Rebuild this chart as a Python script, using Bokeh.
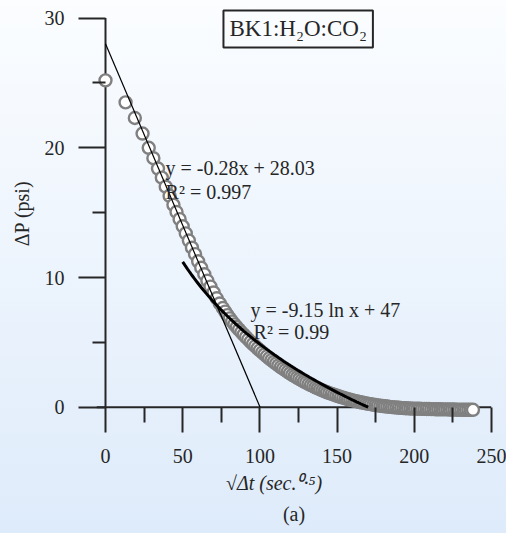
import numpy as np
from bokeh.plotting import figure
from bokeh.models import Range1d, FixedTicker, Span, Label, Title
from bokeh.embed import file_html
from bokeh.resources import INLINE

# ---- data ----
x_early = [0, 13, 19, 24, 28, 31, 34, 36.5, 39, 41.5, 44, 46, 48, 50, 52, 54, 56, 58,
           60, 62, 64, 66, 68, 70, 72, 74, 76]
y_early = [25.2, 23.5, 22.3, 21.1, 20.0, 19.2, 18.4, 17.7, 17.0, 16.3, 15.6, 15.05, 14.5,
           13.95, 13.4, 12.85, 12.3, 11.8, 11.25, 10.75, 10.25, 9.75, 9.3, 8.85, 8.4, 8.0, 7.65]

x_late = [77.5, 79, 80.5, 82, 83.5, 85, 86.5, 88, 89.5, 91,
          92.5, 94, 95.5, 97, 98.5, 100, 101.5, 103, 104.5, 106,
          107.5, 109, 110.5, 112, 113.5, 115, 116.5, 118, 119.5, 121,
          122.5, 124, 125.5, 127, 128.5, 130, 131.5, 133, 134.5, 136,
          137.5, 139, 140.5, 142, 143.5, 145, 146.5, 148, 149.5, 151,
          152.5, 154, 155.5, 157, 158.5, 160, 161.5, 163, 164.5, 166,
          167.5, 169, 170.5, 172, 173.5, 175, 176.5, 178, 179.5, 181,
          182.5, 184, 185.5, 187, 188.5, 190, 191.5, 193, 194.5, 196,
          197.5, 199, 200.5, 202, 203.5, 205, 206.5, 208, 209.5, 211,
          212.5, 214, 215.5, 217, 218.5, 220, 221.5, 223, 224.5, 226,
          227.5, 229, 230.5, 232, 233.5, 235, 236.5, 238]
y_late = [7.37, 7.10, 6.85, 6.61, 6.39, 6.18, 5.98, 5.78, 5.59, 5.40,
          5.22, 5.04, 4.87, 4.70, 4.54, 4.38, 4.22, 4.07, 3.92, 3.77,
          3.63, 3.49, 3.36, 3.22, 3.09, 2.97, 2.85, 2.73, 2.61, 2.50,
          2.39, 2.28, 2.18, 2.08, 1.98, 1.89, 1.79, 1.70, 1.62, 1.53,
          1.45, 1.37, 1.30, 1.22, 1.15, 1.09, 1.02, 0.96, 0.90, 0.84,
          0.78, 0.73, 0.67, 0.62, 0.58, 0.53, 0.49, 0.44, 0.40, 0.36,
          0.33, 0.29, 0.26, 0.23, 0.19, 0.17, 0.14, 0.11, 0.09, 0.07,
          0.05, 0.03, 0.01, -0.01, -0.02, -0.04, -0.05, -0.07, -0.08, -0.09,
          -0.10, -0.11, -0.11, -0.12, -0.12, -0.13, -0.13, -0.14, -0.14, -0.15,
          -0.15, -0.16, -0.16, -0.16, -0.17, -0.17, -0.17, -0.18, -0.18, -0.18,
          -0.19, -0.19, -0.19, -0.20, -0.20, -0.20, -0.20, -0.20]

x_data = x_early + x_late
y_data = y_early + y_late

# trend-line coefficients (from the chart annotations)
lin_slope, lin_intercept = -0.28, 28.03
log_coef, log_intercept = -9.15, 47.0
log_x_start = 50

x_ticks = [0, 50, 100, 150, 200, 250]
x_minor = [25, 75, 125, 175, 225]
y_ticks = [0, 10, 20, 30]
y_minor = [5, 15, 25]

# trend lines
lin_x = [0, -lin_intercept / lin_slope]
lin_y = [lin_intercept + lin_slope * v for v in lin_x]
log_x_end = float(np.exp(log_intercept / -log_coef))
log_x = np.linspace(log_x_start, log_x_end, 80)
log_y = log_coef * np.log(log_x) + log_intercept

INK = "#262626"
FONT = "Liberation Serif"

p = figure(width=506, height=533, output_backend="svg", toolbar_location=None,
           title=None,
           x_range=Range1d(-5.83, 250), y_range=Range1d(-0.87, 30.74),
           min_border_left=96, min_border_right=15, min_border_top=8,
           min_border_bottom=115)
p.background_fill_color = None
p.border_fill_color = None
p.styles = {"background": "linear-gradient(to bottom, #fbfdff 0%, #eef5fd 45%, #deebfa 100%)"}
p.outline_line_color = None
p.xgrid.visible = False
p.ygrid.visible = False

# axes
p.xaxis.ticker = FixedTicker(ticks=x_ticks, minor_ticks=x_minor)
p.yaxis.ticker = FixedTicker(ticks=y_ticks, minor_ticks=y_minor)
for ax in (p.xaxis, p.yaxis):
    ax.axis_line_color = None
    ax.major_tick_line_color = INK
    ax.minor_tick_line_color = INK
    ax.major_tick_line_width = 2
    ax.minor_tick_line_width = 2
    ax.major_label_text_font = FONT
    ax.major_label_text_font_size = "20px"
    ax.major_label_text_color = INK
    ax.axis_label_text_font = FONT
    ax.axis_label_text_font_size = "20px"
    ax.axis_label_text_color = INK

p.xaxis.major_tick_in = 11
p.xaxis.major_tick_out = 14
p.xaxis.minor_tick_in = 11
p.xaxis.minor_tick_out = 4
p.xaxis.major_label_standoff = 16
p.xaxis.axis_label = "√Δt (sec.⁰·⁵)" + "\u00a0" * 8
p.xaxis.axis_label_text_font_style = "italic"
p.xaxis.axis_label_standoff = 6

p.yaxis.major_tick_in = 9
p.yaxis.major_tick_out = 18
p.yaxis.minor_tick_in = 9
p.yaxis.minor_tick_out = 4
p.yaxis.major_label_standoff = 14
p.yaxis.axis_label = "ΔP (psi)"
p.yaxis.axis_label_text_font_style = "normal"
p.yaxis.axis_label_standoff = 9

# axis lines at the data origin
p.add_layout(Span(location=0, dimension="width", line_color=INK, line_width=2,
                  level="underlay"))
p.segment(x0=[x_ticks[0]], y0=[y_ticks[0]], x1=[x_ticks[0]], y1=[y_ticks[-1]],
          line_color=INK, line_width=2)

# caption below the axis title
p.add_layout(Title(text="(a)", align="center", text_font=FONT, text_font_size="20px",
                   text_font_style="normal", text_color=INK, standoff=8, offset=-6),
             "below")

# data
p.scatter(x_data, y_data, marker="circle", size=12, line_color="#808080",
          line_width=2.4, fill_color="white")

# trend lines
p.line(lin_x, lin_y, line_color="black", line_width=1.2)
p.line(log_x, log_y, line_color="black", line_width=3)

# annotations
def lab(x, y, text, **kw):
    opts = dict(text_font=FONT, text_font_size="20px", text_color=INK,
                text_baseline="alphabetic")
    opts.update(kw)
    p.add_layout(Label(x=x, y=y, text=text, **opts))

lab(38.9, 18.48, "y = -0.28x + 28.03")
lab(38.9, 16.6, "R² = 0.997")
lab(93.9, 7.46, "y = -9.15 ln x + 47")
lab(95.9, 5.78, "R² = 0.99")
lab(76.4, 30.59, "BK1:H₂O:CO₂", text_baseline="top", text_font_size="23px",
    border_line_color=INK, border_line_width=2, padding=6)

open("out.html", "w").write(file_html(p, INLINE))
